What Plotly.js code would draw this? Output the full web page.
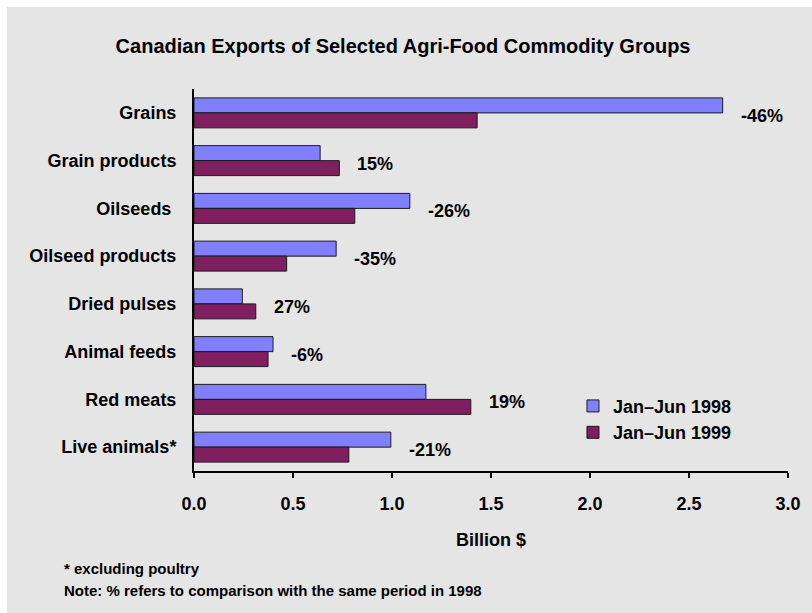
<!DOCTYPE html>
<html>
<head>
<meta charset="utf-8">
<script src="https://cdn.plot.ly/plotly-3.0.1.min.js"></script>
<style>
  html, body { margin: 0; padding: 0; background: #ffffff; }
  #chart { position: absolute; left: 7px; top: 7px; width: 805px; height: 606px; }
</style>
</head>
<body>
<div id="chart"></div>
<script>
// ---- data ----
const categories = ["Grains", "Grain products", "Oilseeds ", "Oilseed products", "Dried pulses", "Animal feeds", "Red meats", "Live animals*"];
const values1998 = [2.67, 0.637, 1.09, 0.718, 0.244, 0.399, 1.171, 0.994];
const values1999 = [1.43, 0.734, 0.812, 0.468, 0.312, 0.374, 1.398, 0.782];
const changeLabels = ["-46%", "15%", "-26%", "-35%", "27%", "-6%", "19%", "-21%"];
const seriesNames = ["Jan\u2013Jun 1998", "Jan\u2013Jun 1999"];
const xTickValues = [0, 0.5, 1.0, 1.5, 2.0, 2.5, 3.0];
const chartTitle = "Canadian Exports of Selected Agri-Food Commodity Groups";
const xAxisTitle = "Billion $";
const footnotes = ["* excluding poultry", "Note: % refers to comparison with the same period in 1998"];

// ---- styling ----
const FONT = "Arial, 'Liberation Sans', Helvetica, sans-serif";
const bold = (size) => ({ family: FONT, size: size, color: "#000000", weight: "bold" });

const traces = [
  {
    type: "bar", orientation: "h", name: seriesNames[0],
    y: categories, x: values1998,
    marker: { color: "#8080ff", line: { color: "#1a1a1a", width: 1 } },
    hoverinfo: "none"
  },
  {
    type: "bar", orientation: "h", name: seriesNames[1],
    y: categories, x: values1999,
    marker: { color: "#7f1f5f", line: { color: "#1a1a1a", width: 1 } },
    hoverinfo: "none"
  }
];

const annotations = categories.map((c, i) => ({
  x: Math.max(values1998[i], values1999[i]), y: c,
  xref: "x", yref: "y",
  text: changeLabels[i], showarrow: false,
  xanchor: "left", yanchor: "middle", xshift: 16, yshift: -3,
  font: bold(18)
}));
annotations.push({
  x: -0.222, y: -0.2565, xref: "paper", yref: "paper",
  text: footnotes[0], showarrow: false, xanchor: "left", yanchor: "middle",
  font: bold(15)
});
annotations.push({
  x: -0.222, y: -0.314, xref: "paper", yref: "paper",
  text: footnotes[1], showarrow: false, xanchor: "left", yanchor: "middle",
  font: bold(15)
});

const layout = {
  width: 805, height: 606,
  margin: { l: 187, r: 24, t: 82, b: 142, pad: 0 },
  paper_bgcolor: "#e5e5e5",
  plot_bgcolor: "#e5e5e5",
  font: bold(18),
  title: {
    text: chartTitle, font: bold(20),
    xref: "container", yref: "container",
    x: 0.492, xanchor: "center", y: 0.9356, yanchor: "middle"
  },
  barmode: "group",
  bargap: 0.372,
  bargroupgap: 0,
  showlegend: true,
  legend: {
    x: 0.638, y: 0.218, xanchor: "left", yanchor: "top",
    bgcolor: "rgba(0,0,0,0)", traceorder: "normal",
    font: bold(18), itemwidth: 30
  },
  xaxis: {
    range: [0, 3], tickvals: xTickValues, tickformat: ".1f",
    showgrid: false, zeroline: false,
    showline: true, linecolor: "#000000", linewidth: 2,
    ticks: "outside", ticklen: 5, tickwidth: 2, tickcolor: "#000000",
    tickfont: bold(18), ticklabelstandoff: 10,
    title: { text: xAxisTitle, font: bold(18), standoff: 21 },
    fixedrange: true
  },
  yaxis: {
    categoryorder: "array", categoryarray: categories,
    autorange: "reversed",
    showgrid: false, zeroline: false,
    showline: true, linecolor: "#000000", linewidth: 2,
    ticks: "", tickfont: bold(18), ticklabelstandoff: 12,
    fixedrange: true
  },
  annotations: annotations
};

Plotly.newPlot("chart", traces, layout, { displayModeBar: false, staticPlot: true });
</script>
</body>
</html>
